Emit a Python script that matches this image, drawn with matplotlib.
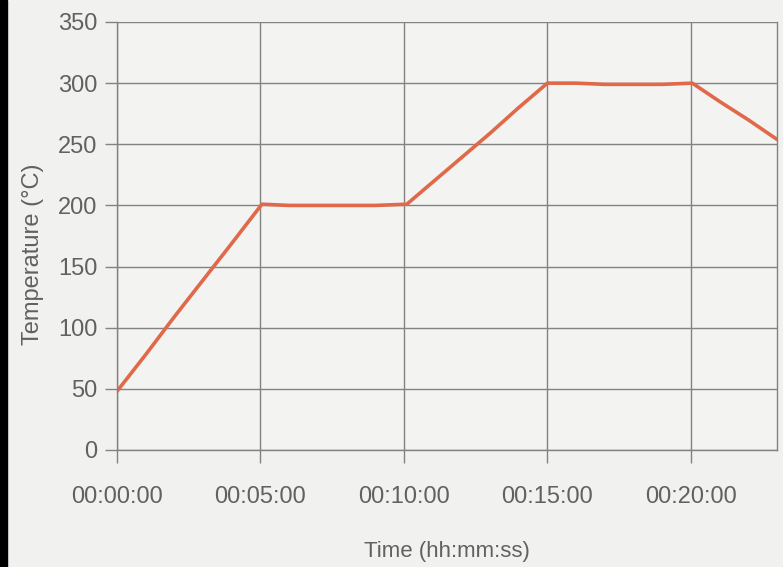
import numpy as np
import matplotlib
matplotlib.use('Agg')
import matplotlib.pyplot as plt
from matplotlib.ticker import FuncFormatter
from matplotlib.patches import Rectangle

# time in minutes, temperature in degC
time_min = [0.0, 1.0, 2.0, 3.0, 4.0, 5.05, 6.0, 7.0, 8.0, 9.0, 10.1,
            11.0, 12.0, 13.0, 14.0, 15.0, 16.0, 17.0, 18.0, 19.0, 20.05,
            21.0, 22.0, 23.0]
temp_c = [48, 78, 109, 139, 169, 201, 200, 200, 200, 200, 201,
          219, 239, 259, 280, 300, 300, 299, 299, 299, 300,
          285, 270, 254]

y_ticks = [0, 50, 100, 150, 200, 250, 300, 350]
x_ticks = [0, 5, 10, 15, 20]


def hms(x, pos):
    secs = int(round(x * 60))
    return '%02d:%02d:%02d' % (secs // 3600, (secs // 60) % 60, secs % 60)


plt.rcParams['font.family'] = ['Liberation Sans', 'DejaVu Sans']
txt = '#616161'
grid = '#828282'

fig = plt.figure(figsize=(7.83, 5.67), dpi=100)
fig.patch.set_facecolor('#f1f1f0')
ax = fig.add_axes([117/783, 1-450/567, (777-117)/783, (450-22)/567])
ax.set_facecolor('#f3f3f2')

ax.plot(time_min, temp_c, color='#e0694a', lw=2.6, solid_capstyle='round')

ax.set_xlim(0, 23.0)
ax.set_ylim(0, 350)
ax.set_xticks(x_ticks)
ax.set_yticks(y_ticks)
ax.xaxis.set_major_formatter(FuncFormatter(hms))
ax.grid(True, color=grid, lw=1.0)
ax.set_axisbelow(True)

ax.spines['top'].set_visible(False)
for s in ['left', 'bottom', 'right']:
    ax.spines[s].set_color(grid)
    ax.spines[s].set_linewidth(1.0)

ax.tick_params(axis='both', colors=grid, length=9, width=1.0,
               labelcolor=txt, labelsize=17)
ax.tick_params(axis='x', pad=17)
ax.tick_params(axis='y', pad=5)

ax.set_xlabel('Time (hh:mm:ss)', fontsize=16, color=txt)
ax.set_ylabel('Temperature (°C)', fontsize=17, color=txt)
ax.xaxis.set_label_coords(0.5, -0.212)
ax.yaxis.set_label_coords(-0.11, 0.458)

# dark scan edge on the left
fig.patches.append(Rectangle((0, 0), 7/783, 1, transform=fig.transFigure,
                             color='black', zorder=10))

fig.savefig('out.png', dpi=100, facecolor=fig.get_facecolor())
